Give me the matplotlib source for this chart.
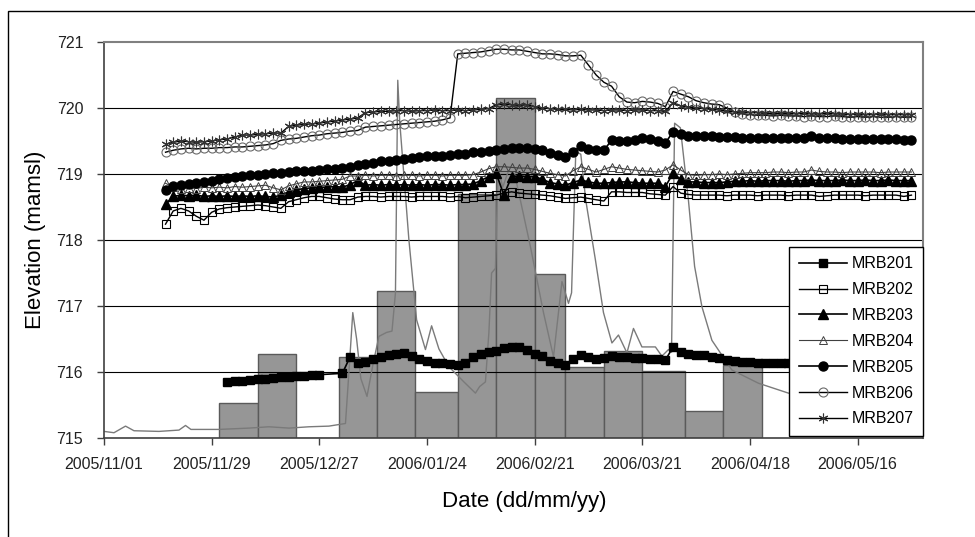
import numpy as np
import pandas as pd
import matplotlib
matplotlib.use('Agg')
import matplotlib.pyplot as plt
import matplotlib.dates as mdates
from matplotlib.patches import Rectangle

plt.rcParams['font.family'] = ['Liberation Sans', 'DejaVu Sans']

# piezometer readings, every 2nd day 2005/11/17 - 2006/05/30
dates = pd.date_range('2005-11-17', '2006-05-30', freq='2D')
# MRB201 has a gap at the end of December
dates_201 = pd.date_range('2005-12-03', '2005-12-27', freq='2D').append(
    pd.date_range('2006-01-02', '2006-05-30', freq='2D'))

mrb201 = [715.85, 715.86, 715.87, 715.88, 715.89, 715.90, 715.91, 715.92, 715.93, 715.94,
          715.94, 715.95, 715.96,
          715.98, 716.23, 716.13, 716.15, 716.20, 716.23, 716.26, 716.28, 716.29, 716.24,
          716.19, 716.17, 716.14, 716.13, 716.12, 716.11, 716.13, 716.22, 716.27, 716.30,
          716.32, 716.36, 716.38, 716.38, 716.33, 716.28, 716.24, 716.17, 716.13, 716.11,
          716.20, 716.26, 716.23, 716.19, 716.21, 716.24, 716.23, 716.22, 716.21, 716.21,
          716.20, 716.19, 716.18, 716.38, 716.31, 716.28, 716.26, 716.26, 716.23, 716.21,
          716.18, 716.16, 716.15, 716.15, 716.14, 716.14,
          716.14, 716.13, 716.14, 716.13, 716.13, 716.13, 716.12, 716.13, 716.12, 716.12,
          716.12, 716.13, 716.12, 716.12, 716.12, 716.12, 716.12, 716.12, 716.12]

mrb202 = [718.24, 718.44, 718.48, 718.44, 718.36, 718.30, 718.42, 718.47, 718.49, 718.50,
          718.51, 718.52, 718.53, 718.52, 718.50, 718.48, 718.58, 718.61, 718.64, 718.66,
          718.66, 718.64, 718.62, 718.61, 718.61, 718.65, 718.66, 718.66, 718.65, 718.66,
          718.66, 718.66, 718.65, 718.66, 718.66, 718.66, 718.66, 718.65, 718.66, 718.64,
          718.65, 718.66, 718.67, 718.68, 718.71, 718.73, 718.71, 718.70, 718.69, 718.68,
          718.67, 718.65, 718.63, 718.64, 718.65, 718.63, 718.61, 718.59, 718.73, 718.73,
          718.72, 718.72, 718.72, 718.70, 718.69, 718.68, 718.81, 718.71, 718.69, 718.68,
          718.68, 718.68, 718.68, 718.67, 718.68, 718.68, 718.68, 718.67, 718.68, 718.68,
          718.68, 718.67, 718.68, 718.68, 718.68, 718.66, 718.67, 718.68, 718.68, 718.68,
          718.68, 718.67, 718.68, 718.68, 718.68, 718.68, 718.66, 718.68]

mrb203 = [718.54, 718.66, 718.68, 718.67, 718.68, 718.66, 718.67, 718.66, 718.67, 718.66,
          718.67, 718.66, 718.67, 718.66, 718.65, 718.68, 718.73, 718.76, 718.78, 718.79,
          718.80, 718.80, 718.81, 718.80, 718.84, 718.90, 718.83, 718.84, 718.83, 718.84,
          718.83, 718.84, 718.83, 718.84, 718.83, 718.84, 718.84, 718.83, 718.84, 718.84,
          718.85, 718.90, 718.96, 719.01, 718.68, 718.96, 718.97, 718.96, 718.96, 718.92,
          718.87, 718.85, 718.83, 718.87, 718.91, 718.88, 718.86, 718.86, 718.87, 718.88,
          718.88, 718.87, 718.86, 718.86, 718.86, 718.81, 719.01, 718.92, 718.88, 718.88,
          718.87, 718.87, 718.87, 718.88, 718.89, 718.89, 718.90, 718.89, 718.90, 718.90,
          718.90, 718.89, 718.90, 718.90, 718.91, 718.90, 718.90, 718.90, 718.91, 718.90,
          718.90, 718.91, 718.90, 718.90, 718.91, 718.90, 718.90, 718.90]

mrb204 = [718.86, 718.80, 718.78, 718.79, 718.78, 718.80, 718.79, 718.80, 718.79, 718.81,
          718.80, 718.81, 718.82, 718.83, 718.79, 718.76, 718.82, 718.85, 718.88, 718.88,
          718.89, 718.90, 718.91, 718.92, 718.97, 718.97, 718.98, 718.97, 718.98, 718.98,
          718.97, 718.98, 718.98, 718.97, 718.98, 718.98, 718.97, 718.98, 718.98, 718.98,
          718.99, 719.03, 719.08, 719.11, 719.11, 719.10, 719.09, 719.09, 719.07, 719.04,
          719.01, 718.99, 718.97, 719.05, 719.11, 719.07, 719.03, 719.07, 719.11, 719.09,
          719.07, 719.06, 719.05, 719.04, 719.03, 719.06, 719.14, 719.06, 718.99, 718.98,
          718.99, 718.99, 719.00, 718.99, 719.00, 719.01, 719.02, 719.02, 719.02, 719.03,
          719.03, 719.02, 719.03, 719.03, 719.06, 719.04, 719.03, 719.03, 719.02, 719.03,
          719.03, 719.03, 719.03, 719.02, 719.03, 719.03, 719.03, 719.03]

mrb205 = [718.76, 718.82, 718.84, 718.85, 718.87, 718.88, 718.90, 718.92, 718.94, 718.95,
          718.97, 718.98, 718.99, 719.00, 719.01, 719.02, 719.03, 719.04, 719.05, 719.05,
          719.06, 719.07, 719.08, 719.09, 719.11, 719.13, 719.15, 719.17, 719.19, 719.20,
          719.21, 719.23, 719.24, 719.26, 719.27, 719.27, 719.28, 719.29, 719.30, 719.31,
          719.33, 719.34, 719.35, 719.36, 719.38, 719.39, 719.40, 719.39, 719.38, 719.37,
          719.32, 719.29, 719.26, 719.34, 719.42, 719.38, 719.36, 719.36, 719.51, 719.50,
          719.50, 719.52, 719.54, 719.53, 719.50, 719.47, 719.64, 719.60, 719.58, 719.57,
          719.57, 719.57, 719.56, 719.56, 719.56, 719.55, 719.55, 719.55, 719.55, 719.54,
          719.54, 719.54, 719.55, 719.55, 719.58, 719.55, 719.54, 719.54, 719.53, 719.53,
          719.53, 719.53, 719.53, 719.53, 719.53, 719.53, 719.52, 719.52]

mrb206 = [719.33, 719.36, 719.38, 719.39, 719.38, 719.39, 719.39, 719.40, 719.40, 719.41,
          719.41, 719.42, 719.43, 719.44, 719.46, 719.51, 719.53, 719.54, 719.56, 719.58,
          719.59, 719.61, 719.62, 719.63, 719.65, 719.66, 719.71, 719.72, 719.73, 719.74,
          719.75, 719.76, 719.77, 719.78, 719.79, 719.80, 719.82, 719.85, 720.82, 720.83,
          720.84, 720.85, 720.87, 720.89, 720.89, 720.88, 720.88, 720.86, 720.84, 720.82,
          720.82, 720.81, 720.79, 720.79, 720.80, 720.65, 720.50, 720.39, 720.33, 720.17,
          720.09, 720.08, 720.10, 720.09, 720.07, 720.02, 720.25, 720.21, 720.17, 720.11,
          720.08, 720.06, 720.05, 720.00, 719.94, 719.91, 719.90, 719.89, 719.89, 719.88,
          719.89, 719.88, 719.88, 719.87, 719.88, 719.87, 719.87, 719.88, 719.87, 719.86,
          719.87, 719.86, 719.87, 719.86, 719.86, 719.87, 719.86, 719.86]

mrb207 = [719.45, 719.48, 719.50, 719.49, 719.48, 719.49, 719.50, 719.52, 719.53, 719.56,
          719.59, 719.59, 719.60, 719.61, 719.62, 719.62, 719.72, 719.74, 719.75, 719.76,
          719.77, 719.79, 719.80, 719.82, 719.83, 719.85, 719.93, 719.94, 719.95, 719.95,
          719.96, 719.96, 719.95, 719.96, 719.96, 719.97, 719.96, 719.96, 719.97, 719.96,
          719.97, 719.98, 719.99, 720.05, 720.06, 720.05, 720.04, 720.05, 720.02, 720.00,
          719.99, 719.98, 719.98, 719.97, 719.98, 719.97, 719.97, 719.96, 719.97, 719.97,
          719.96, 719.97, 719.97, 719.96, 719.96, 719.95, 720.08, 720.03, 720.01, 720.00,
          719.99, 719.98, 719.97, 719.95, 719.94, 719.94, 719.93, 719.93, 719.92, 719.92,
          719.92, 719.92, 719.91, 719.92, 719.91, 719.91, 719.92, 719.91, 719.91, 719.90,
          719.91, 719.90, 719.90, 719.91, 719.90, 719.90, 719.90, 719.90]

# river stage (thin grey line), days since 2005/11/01
stage_day = [0, 2.6, 5.6, 7.8, 14.3, 19.5, 21.2, 22.6, 29.9, 37.7, 42.9, 48.1, 53.3, 58.5,
             62.8, 63.7, 64.7, 65.7, 66.8, 68.4, 69.9, 71.5, 73.5, 74.9, 75.8, 76.4, 76.9,
             79.3, 81.3, 83.6, 85.2, 87.1, 89.7, 93.6, 96.6, 97.7, 99.2, 100.1, 100.8,
             101.8, 102.5, 103.7, 105.2, 106.8, 108.3, 110.9, 114.3, 116.9, 119.1, 120.8,
             121.6, 122.7, 124.0, 125.3, 127.8, 129.9, 132.1, 133.8, 136.0, 137.7, 139.9,
             143.4, 145.1, 146.8, 147.6, 148.4, 149.9, 152.0, 153.6, 155.5, 158.1, 163.3,
             170.2, 178.0, 185.8, 193.6, 201.4, 210.5]
stage = [715.10, 715.08, 715.18, 715.11, 715.10, 715.12, 715.19, 715.13, 715.13, 715.15,
         715.17, 715.15, 715.17, 715.18, 715.22, 716.00, 716.90, 716.50, 715.90, 715.63,
         716.10, 716.54, 716.60, 716.62, 717.20, 720.42, 719.80, 718.00, 716.79, 716.34,
         716.70, 716.35, 716.08, 715.85, 715.68, 715.78, 715.85, 716.60, 717.50, 717.57,
         719.10, 718.80, 719.05, 719.00, 718.60, 717.90, 716.90, 716.23, 717.37, 717.04,
         717.20, 719.34, 719.30, 718.60, 717.70, 716.90, 716.44, 716.56, 716.29, 716.66,
         716.38, 716.38, 716.24, 716.34, 716.30, 719.77, 719.70, 718.60, 717.60, 716.99,
         716.48, 716.03, 715.83, 715.68, 715.58, 715.52, 715.48, 715.45]

# dekadal rainfall, drawn as bar tops on the elevation scale
rain_edges = ['2005-12-01', '2005-12-11', '2005-12-21', '2006-01-01', '2006-01-11',
              '2006-01-21', '2006-02-01', '2006-02-11', '2006-02-21', '2006-03-01',
              '2006-03-11', '2006-03-21', '2006-04-01', '2006-04-11', '2006-04-21']
rain_top = [715.53, 716.28, 715.00, 716.23, 717.23, 715.69, 718.70, 720.15, 717.49,
            716.08, 716.32, 716.02, 715.41, 716.11]

start = pd.Timestamp('2005-11-01')
stage_dates = start + pd.to_timedelta(stage_day, unit='D')

fig = plt.figure(figsize=(9.75, 5.37), dpi=100)
ax = fig.add_axes([104 / 975, 1 - 438 / 537, 819 / 975, 396 / 537])

# chart border
fig.patches.append(Rectangle((8 / 975, -0.05), 1.2, 1 - 11 / 537 + 0.05,
                             transform=fig.transFigure, fill=False,
                             edgecolor='black', linewidth=1.0))

edges = mdates.date2num(pd.to_datetime(rain_edges))
ax.bar(edges[:-1], np.array(rain_top) - 715, width=np.diff(edges), bottom=715,
       align='edge', color='#969696', edgecolor='#5a5a5a', linewidth=1.0, zorder=1)

for v in [716, 717, 718, 719, 720]:
    ax.axhline(v, color='black', linewidth=0.8, zorder=1.5)

ax.plot(stage_dates, stage, color='#7a7a7a', linewidth=1.0, zorder=2)

ax.plot(dates_201, mrb201, color='black', lw=1.2, marker='s', ms=6,
        mfc='black', mec='black', label='MRB201', zorder=3)
ax.plot(dates, mrb202, color='black', lw=1.0, marker='s', ms=5.5,
        mfc='none', mec='black', mew=0.8, label='MRB202', zorder=3)
ax.plot(dates, mrb203, color='black', lw=1.2, marker='^', ms=6.5,
        mfc='black', mec='black', label='MRB203', zorder=3)
ax.plot(dates, mrb204, color='#404040', lw=0.8, marker='^', ms=6,
        mfc='none', mec='#404040', mew=0.7, label='MRB204', zorder=3)
ax.plot(dates, mrb205, color='black', lw=1.2, marker='o', ms=6.5,
        mfc='black', mec='black', label='MRB205', zorder=3)
ax.plot(dates, mrb206, color='black', lw=1.0, marker='o', ms=6.5,
        mfc='none', mec='#6a6a6a', mew=0.8, label='MRB206', zorder=3)
ax.plot(dates, mrb207, color='black', lw=1.0, marker=(6, 2, 0), ms=7,
        mec='#333333', mew=0.8, label='MRB207', zorder=3)

ax.set_xlim(start, start + pd.Timedelta(days=213))
ax.set_ylim(715, 721)
ax.set_yticks([715, 716, 717, 718, 719, 720, 721])
ax.set_xticks(pd.date_range('2005-11-01', periods=8, freq='28D'))
ax.xaxis.set_major_formatter(mdates.DateFormatter('%Y/%m/%d'))

for side in ['top', 'right']:
    ax.spines[side].set_color('#808080')
    ax.spines[side].set_linewidth(1.5)
for side in ['left', 'bottom']:
    ax.spines[side].set_color('#404040')
    ax.spines[side].set_linewidth(1.2)
ax.tick_params(axis='both', direction='out', length=5, width=1, color='#404040',
               labelsize=11.5, labelcolor='#222222')
ax.tick_params(axis='y', pad=10)
ax.tick_params(axis='x', pad=9)

fig.text(36 / 975, 1 - 240 / 537, 'Elevation (mamsl)', rotation=90,
         ha='center', va='center', fontsize=16)
fig.text(524 / 975, 1 - 502 / 537, 'Date (dd/mm/yy)', ha='center', va='center',
         fontsize=16)

leg = ax.legend(loc='lower right', bbox_to_anchor=(1.0, 0.005), frameon=True,
                fancybox=False, edgecolor='black', fontsize=11.5, handlelength=3.0,
                handletextpad=0.3, labelspacing=0.68, borderpad=0.6,
                borderaxespad=0, framealpha=1)
leg.get_frame().set_linewidth(1.0)
leg.set_zorder(10)

fig.savefig('out.png', dpi=100)
